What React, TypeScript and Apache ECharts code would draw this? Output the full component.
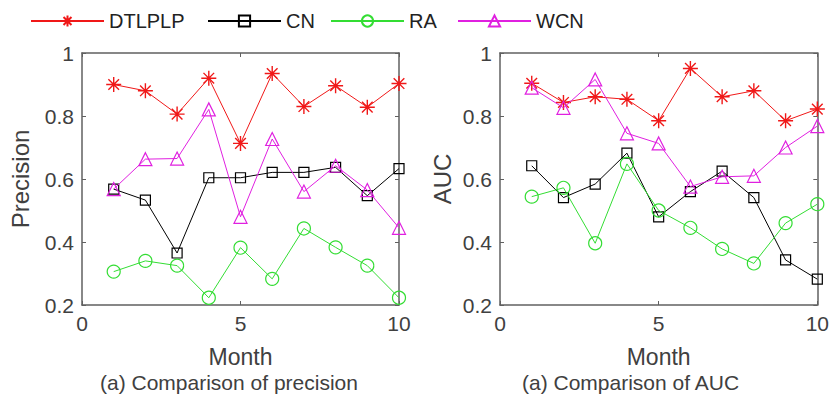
import React, { useEffect, useRef } from "react";
import * as echarts from "echarts";

const months = [1, 2, 3, 4, 5, 6, 7, 8, 9, 10];
const seriesNames = ["DTLPLP", "CN", "RA", "WCN"];

const precDTLPLP = [0.9, 0.88, 0.806, 0.92, 0.713, 0.935, 0.83, 0.896, 0.828, 0.903];
const precCN = [0.568, 0.533, 0.365, 0.604, 0.604, 0.621, 0.621, 0.637, 0.547, 0.633];
const precRA = [0.306, 0.34, 0.325, 0.223, 0.382, 0.283, 0.443, 0.383, 0.325, 0.223];
const precWCN = [0.568, 0.663, 0.665, 0.821, 0.48, 0.727, 0.56, 0.642, 0.565, 0.445];

const aucDTLPLP = [0.904, 0.843, 0.861, 0.853, 0.785, 0.951, 0.861, 0.88, 0.785, 0.822];
const aucCN = [0.642, 0.541, 0.584, 0.682, 0.48, 0.56, 0.625, 0.541, 0.343, 0.282];
const aucRA = [0.544, 0.572, 0.396, 0.648, 0.5, 0.445, 0.378, 0.332, 0.46, 0.52];
const aucWCN = [0.89, 0.826, 0.916, 0.745, 0.713, 0.576, 0.607, 0.61, 0.7, 0.768];

const xTicks = { min: 0, max: 10, interval: 5 };
const yTicks = { min: 0.2, max: 1, interval: 0.2 };

const colors = ["#f01818", "#000000", "#33dd33", "#e020e0"];
const symbols = [
  "path://M0,-10L0,10M-10,0L10,0M-7.1,-7.1L7.1,7.1M-7.1,7.1L7.1,-7.1",
  "rect",
  "circle",
  "triangle",
];
const symbolSizes = [15, 10, 13, 13];

const FONT = "'Liberation Sans', Arial, sans-serif";
const AXIS = "#606060";
const TEXT = "#404040";

export default function App() {
  const ref = useRef<HTMLDivElement>(null);

  useEffect(() => {
    document.body.style.margin = "0";
    const chart = echarts.init(ref.current!, null, { renderer: "svg" });

    const grids = [
      { left: 82, top: 53, width: 317, height: 252 },
      { left: 500, top: 53, width: 319, height: 252 },
    ];
    const yNames = ["Precision", "AUC"];
    const yNameGaps = [50, 46];
    const dataSets = [
      [precDTLPLP, precCN, precRA, precWCN],
      [aucDTLPLP, aucCN, aucRA, aucWCN],
    ];

    const xAxis: any[] = [];
    const yAxis: any[] = [];
    const series: any[] = [];

    grids.forEach((_, g) => {
      const axLine = { show: true, onZero: false, lineStyle: { color: AXIS, width: 1.5 } };
      const tick = { show: true, inside: true, length: 4, lineStyle: { color: AXIS, width: 1 } };
      xAxis.push({
        type: "value",
        gridIndex: g,
        position: "bottom",
        ...xTicks,
        axisLine: axLine,
        axisTick: tick,
        splitLine: { show: false },
        axisLabel: { color: TEXT, fontSize: 21, fontFamily: FONT, margin: 8 },
        name: "Month",
        nameLocation: "middle",
        nameGap: 40,
        nameTextStyle: { color: TEXT, fontSize: 23, fontFamily: FONT },
      });
      xAxis.push({
        type: "value",
        gridIndex: g,
        position: "top",
        ...xTicks,
        axisLine: axLine,
        axisTick: tick,
        splitLine: { show: false },
        axisLabel: { show: false },
      });
      yAxis.push({
        type: "value",
        gridIndex: g,
        position: "left",
        ...yTicks,
        axisLine: axLine,
        axisTick: tick,
        splitLine: { show: false },
        axisLabel: { color: TEXT, fontSize: 21, fontFamily: FONT, margin: 8 },
        name: yNames[g],
        nameLocation: "middle",
        nameGap: yNameGaps[g],
        nameTextStyle: { color: TEXT, fontSize: 24, fontFamily: FONT },
      });
      yAxis.push({
        type: "value",
        gridIndex: g,
        position: "right",
        ...yTicks,
        axisLine: axLine,
        axisTick: tick,
        splitLine: { show: false },
        axisLabel: { show: false },
      });

      dataSets[g].forEach((vals, i) => {
        series.push({
          type: "line",
          name: seriesNames[i],
          xAxisIndex: g * 2,
          yAxisIndex: g * 2,
          data: months.map((m, k) => [m, vals[k]]),
          symbol: symbols[i],
          symbolSize: symbolSizes[i],
          showAllSymbol: true,
          lineStyle: { color: colors[i], width: 1 },
          itemStyle: {
            color: "rgba(255,255,255,0)",
            borderColor: colors[i],
            borderWidth: i === 0 ? 1.4 : 1.2,
          },
          emphasis: { disabled: true },
          z: 2 + i,
        });
      });
    });

    const legendLefts = [25, 202, 325, 452];
    const legend = seriesNames.map((n, i) => ({
      data: [n],
      left: legendLefts[i],
      top: 6,
      itemWidth: 73,
      itemHeight: 14,
      itemGap: 0,
      textStyle: { color: "#222", fontSize: 20, fontFamily: FONT },
      selectedMode: false,
    }));

    chart.setOption({
      animation: false,
      backgroundColor: "#fff",
      grid: grids,
      xAxis,
      yAxis,
      legend,
      series,
      graphic: [
        {
          type: "text",
          left: 235 - 135,
          top: 372,
          style: { text: "(a) Comparison of precision", fill: TEXT, font: `21px ${FONT}` },
        },
        {
          type: "text",
          left: 637 - 115,
          top: 372,
          style: { text: "(a) Comparison of AUC", fill: TEXT, font: `21px ${FONT}` },
        },
      ],
    });

    return () => chart.dispose();
  }, []);

  return <div ref={ref} style={{ width: 832, height: 402 }} />;
}
